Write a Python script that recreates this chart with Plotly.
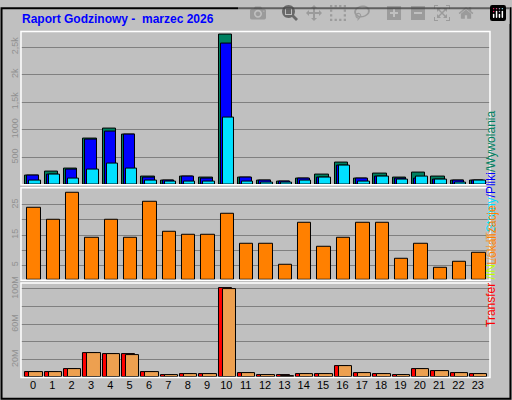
import plotly.graph_objects as go

hours = list(range(24))
hits  = [173,244,298,833,1024,905,155,83,155,137,2726,131,83,60,113,190,405,119,208,137,226,155,83,83]
files = [173,190,280,815,958,905,131,71,149,119,2565,131,83,60,113,131,345,119,149,119,119,101,83,83]
pages = [71,190,119,274,387,298,83,65,65,65,1226,65,48,48,83,137,345,65,155,101,155,101,48,83]
sites = [24,20,29,14,20,14,26,16,15,15,22,12,12,5,19,11,14,19,19,7,12,4,6,9]
kbytes = [6,6,9.3,27.3,26.2,26.2,6,2.6,3.7,3.7,101.3,4.9,2.6,2.2,3.7,3.7,13,4.9,3.7,2.6,9.3,7,4.9,3.7]
kout   = [6,6,9.3,27.3,26.2,25,6,2.6,3.7,3.7,100.2,4.9,2.6,1.5,3.7,3.7,13,4.9,3.7,2.6,9.3,7,4.9,3.7]

BG = "#c0c0c0"
fig = go.Figure()
def bar(y, color, off, w, ax):
    fig.add_trace(go.Bar(x=hours, y=y, offset=off, width=w, marker_color=color,
                         marker_line_color="black", marker_line_width=1,
                         xaxis="x" if ax == 1 else f"x{ax}", yaxis="y" if ax == 1 else f"y{ax}",
                         showlegend=False))
bar(hits, "#008060", -0.4, 0.69, 1)
bar(files, "#0000ff", -0.3, 0.6, 1)
bar(pages, "#00e0ff", -0.19, 0.59, 1)
bar(sites, "#ff8000", -0.29, 0.69, 2)
bar(kbytes, "#ff0000", -0.4, 0.69, 3)
bar(kout, "#eda050", -0.19, 0.69, 3)

xr = [-0.62, 23.63]
common_y = dict(gridcolor="#808080", gridwidth=1, tickangle=-90, tickfont=dict(size=9, color="#909090", family="Liberation Sans"),
                zeroline=False, showline=False, ticks="")
xcommon = dict(range=xr, showgrid=False, zeroline=False, showline=False)
fig.update_layout(
    width=512, height=400, autosize=False, margin=dict(l=0, r=0, t=0, b=0),
    paper_bgcolor=BG, plot_bgcolor=BG, barmode="overlay", bargap=0,
    xaxis=dict(domain=[0.041, 0.957], showticklabels=False, anchor="y", **xcommon),
    xaxis2=dict(domain=[0.041, 0.957], showticklabels=False, anchor="y2", **xcommon),
    xaxis3=dict(domain=[0.041, 0.957], anchor="y3", tickvals=hours, ticks="",
                tickfont=dict(size=11, color="black", family="Liberation Sans"), **xcommon),
    yaxis=dict(domain=[0.5475, 0.9375], range=[0, 2780], tickvals=[500,1000,1500,2000,2500],
               ticktext=["500","1000","1,5k","2k","2,5k"], **common_y),
    yaxis2=dict(domain=[0.305, 0.54], range=[0, 30.7], tickvals=[5,10,15,20,25],
                ticktext=["5","","15","","25"], **common_y),
    yaxis3=dict(domain=[0.0575, 0.2975], range=[0, 106.5], tickvals=[20,40,60,80,100],
                ticktext=["20M","","60M","","100M"], **common_y),
)
shapes = [dict(type="rect", xref="paper", yref="paper", x0=0.003, x1=0.997, y0=0.003, y1=0.997,
               line=dict(color="black", width=2))]
for y0, y1 in [(0.5475, 0.9375), (0.305, 0.54), (0.0575, 0.2975)]:
    shapes.append(dict(type="rect", xref="paper", yref="paper", x0=0.041, x1=0.957, y0=y0, y1=y1,
                       line=dict(color="white", width=1.5)))
fig.update_layout(shapes=shapes)
f = dict(size=12, family="Liberation Sans")
fig.add_annotation(x=0.04, y=0.97, xref="paper", yref="paper", xanchor="left", yanchor="middle",
                   text="<b>Raport Godzinowy -  marzec 2026</b>", showarrow=False,
                   font=dict(size=12, color="#0000ff", family="Liberation Sans"))
fig.add_annotation(x=0.978, y=0.742, xref="paper", yref="paper", textangle=-90, showarrow=False, font=f,
                   text="<span style='color:#00e0ff'>Strony</span><span style='color:#0000ff'>/Pliki</span><span style='color:#008060'>/Wywolania</span>")
fig.add_annotation(x=0.978, y=0.42, xref="paper", yref="paper", textangle=-90, showarrow=False,
                   font=dict(size=12, family="Liberation Sans", color="#ff8000"), text="Lokalizacje")
fig.add_annotation(x=0.978, y=0.18, xref="paper", yref="paper", textangle=-90, showarrow=False, font=f,
                   text="<span style='color:#ff0000'>Transfer</span><span style='color:#c0ff00'> /IN</span><span style='color:#eda050'> /OUT</span>")
fig.write_html("out.html", post_script="document.body.style.margin='0';document.body.style.overflow='hidden';")
